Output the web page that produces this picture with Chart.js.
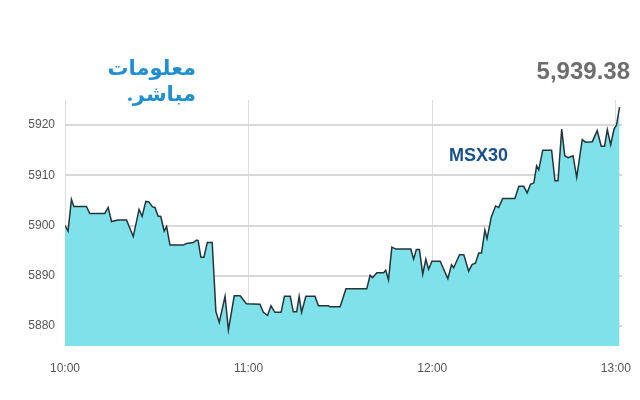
<!DOCTYPE html>
<html><head><meta charset="utf-8">
<script src="https://cdn.jsdelivr.net/npm/chart.js"></script>
<style>
body{margin:0;background:#fff;font-family:Roboto,Arial,sans-serif}
#wrap{position:relative;width:640px;height:400px}
.logo{position:absolute;left:88px;top:54px;color:#1e8fcf;font-family:"Noto Sans","DejaVu Sans",sans-serif;font-weight:bold;font-size:21px;line-height:26px;direction:rtl;text-align:right;width:108px}
.val{position:absolute;right:10px;top:57px;color:#6d6d6d;font-weight:bold;font-size:24px;font-family:"Liberation Sans",Arial,sans-serif}
.msx{position:absolute;left:449px;top:145px;color:#17508a;font-weight:bold;font-size:18px;font-family:"Liberation Sans",Arial,sans-serif}
</style></head><body>
<div id="wrap">
<canvas id="c" width="640" height="400"></canvas>
<div class="logo">معلومات<br>مباشر.</div>
<div class="val">5,939.38</div>
<div class="msx">MSX30</div>
</div>
<script>
const minutes=[0,1,2.1,2.9,7,8.1,13,14.1,15.2,17.3,20.1,22.3,24.2,25.2,26.4,27.4,28.6,29.4,30.4,31.3,32.4,33.2,34.3,38.6,39.7,41.9,43,43.5,44.4,45.4,46.5,48.1,49.3,50.4,52.3,53.4,55.3,57.2,59.3,63.7,64.8,66.2,67.3,68.6,70.6,71.7,73.6,74.6,75.7,76.5,77.3,78.7,81.7,82.8,86.1,86.6,89.9,91.8,98.6,99.7,100.5,101.9,104.1,104.8,105.7,106.8,108.1,113,113.9,114.8,115.8,116.9,117.9,118.8,119.9,122.6,125.1,126.3,127,128.9,130.3,131.9,133,134.1,135.2,136.1,137.2,137.9,139.3,140.7,141.7,143,147,148.3,149.9,151,152.1,153.2,154.1,154.8,156.1,159,160.1,161.1,162.3,163.3,164.4,166,167.2,169,170.1,172.3,173.9,175.2,176.3,177.2,178.3,179.4,180.2,181.2];
const values=[5900.0,5898.9,5905.2,5903.8,5903.8,5902.4,5902.4,5903.6,5900.8,5901.1,5901.1,5897.8,5903.2,5901.8,5904.8,5904.7,5903.7,5903.6,5901.9,5901.8,5898.9,5899.8,5896.1,5896.1,5896.4,5896.6,5897.1,5897.0,5893.7,5893.7,5896.6,5896.6,5882.9,5880.7,5885.9,5879.2,5886.0,5886.0,5884.4,5884.3,5882.7,5882.1,5884.0,5882.7,5882.7,5885.9,5885.9,5882.8,5882.8,5885.9,5882.7,5885.9,5885.9,5884.0,5884.0,5883.8,5883.8,5887.4,5887.4,5890.1,5889.6,5890.6,5890.6,5891.1,5889.2,5895.7,5895.3,5895.3,5893.3,5895.2,5895.2,5890.3,5893.3,5891.3,5892.9,5892.9,5889.4,5892.2,5891.6,5894.2,5894.2,5890.9,5892.2,5892.5,5894.5,5894.5,5899.1,5897.4,5901.7,5903.9,5903.6,5905.4,5905.4,5907.8,5907.8,5906.5,5908.2,5908.5,5911.9,5911.1,5915.0,5915.0,5908.9,5908.9,5919.2,5913.9,5913.5,5913.9,5909.6,5917.1,5916.6,5916.7,5918.9,5915.8,5915.8,5919.1,5916.1,5919.2,5920.0,5923.6];
const timeTicks=[0,60,120,180];
const timeLabels=["10:00","11:00","12:00","13:00"];
const yTicks=[5880,5890,5900,5910,5920];
new Chart(document.getElementById('c'),{
type:'line',
data:{datasets:[{data:minutes.map((m,i)=>({x:m,y:values[i]})),borderColor:'#26343a',borderWidth:1.5,backgroundColor:'#7fe1ea',fill:'start',pointRadius:0,tension:0}]},
options:{responsive:false,animation:false,
layout:{padding:{left:8,right:0,top:100,bottom:0}},
plugins:{legend:{display:false},tooltip:{enabled:false}},
scales:{
x:{type:'linear',min:0,max:182,afterBuildTicks:a=>{a.ticks=timeTicks.map(v=>({value:v}));},afterFit:a=>{a.height=54;a.paddingRight=18;},
ticks:{callback:v=>timeLabels[timeTicks.indexOf(v)],color:'#555',font:{size:12},maxRotation:0,padding:15},
grid:{color:'#dcdcdc',drawTicks:false},border:{display:false}},
y:{min:5876,max:5925,afterBuildTicks:a=>{a.ticks=yTicks.map(v=>({value:v}));},afterFit:a=>{a.width=57;},
ticks:{callback:v=>String(v),color:'#555',font:{size:12},padding:10},
grid:{color:'#d8d8d8',lineWidth:2,drawTicks:false},border:{display:false}}
}}});
</script></body></html>
